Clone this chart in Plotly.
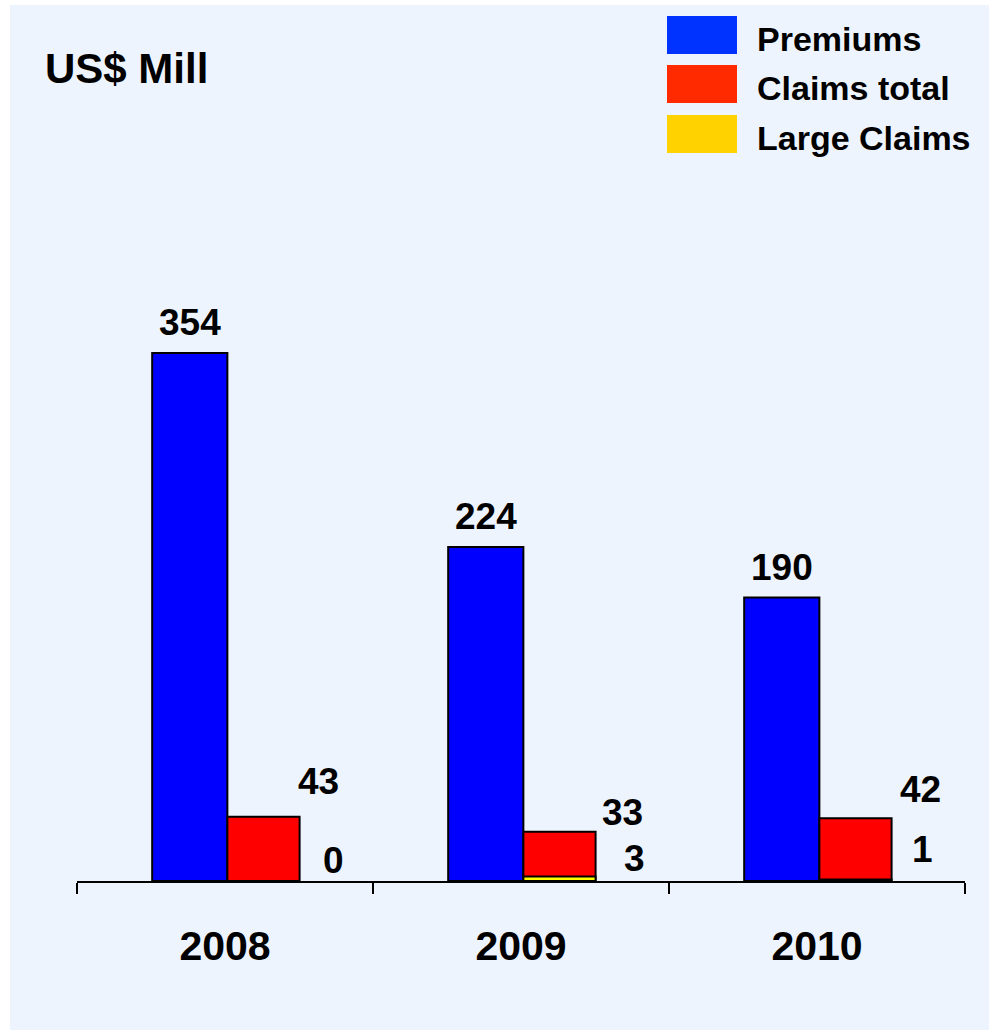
import plotly.graph_objects as go

# Chart data (US$ millions)
years = ["2008", "2009", "2010"]
premiums = [354, 224, 190]
claims_total = [43, 33, 42]
large_claims = [0, 3, 1]

series_names = ["Premiums", "Claims total", "Large Claims"]

# Figure geometry (pixels)
W, H = 989, 1030
PLOT_L, PLOT_R, PLOT_T, PLOT_B = 77, 965, 100, 881
Y_MAX = (PLOT_B - PLOT_T) / 1.4915

FONT = "Liberation Sans, Arial, sans-serif"
BG = "#EEF4FE"

BAR_BLUE = "#0000FF"
BAR_RED = "#FF0000"
BAR_YELLOW = "#FFFF00"
KEY_COLORS = ["#0033FF", "#FF2A00", "#FFD200"]

# bar placement within each category slot (category units)
PREM_OFFSET, PREM_WIDTH = -0.246, 0.254
CLAIM_OFFSET, CLAIM_WIDTH = 0.008, 0.244


def px(x):
    return (x - PLOT_L) / (PLOT_R - PLOT_L)


def py(y):
    return (PLOT_B - y) / (PLOT_B - PLOT_T)


fig = go.Figure()

outline = dict(color="black", width=2)
fig.add_trace(go.Bar(x=years, y=premiums, name=series_names[0],
                     offset=PREM_OFFSET, width=PREM_WIDTH,
                     marker=dict(color=BAR_BLUE, line=outline)))
fig.add_trace(go.Bar(x=years, y=claims_total, name=series_names[1],
                     offset=CLAIM_OFFSET, width=CLAIM_WIDTH,
                     marker=dict(color=BAR_RED, line=outline)))
fig.add_trace(go.Bar(x=years, y=large_claims, name=series_names[2],
                     offset=CLAIM_OFFSET, width=CLAIM_WIDTH,
                     marker=dict(color=BAR_YELLOW, line=outline)))

annotations = []
label_font = dict(family=FONT, size=37, color="black", weight="bold")
DESC = 9  # distance from text box bottom to baseline

# premium value labels, centred over their bars
for i, v in enumerate(premiums):
    annotations.append(dict(
        x=i + PREM_OFFSET + PREM_WIDTH / 2, y=v, xref="x", yref="y",
        text=str(v), showarrow=False, font=label_font,
        xanchor="center", yanchor="bottom", yshift=17 - DESC))

# claims labels sit to the right of the red bars
claims_dx = [93, 101, 103]
claims_dy = [22, 6, 15]
large_dx = [108.5, 113, 105]
large_dy = [7, 4.5, 16.5]
for i in range(len(years)):
    annotations.append(dict(
        x=i, y=claims_total[i], xref="x", yref="y",
        text=str(claims_total[i]), showarrow=False, font=label_font,
        xanchor="center", yanchor="bottom",
        xshift=claims_dx[i], yshift=claims_dy[i] - DESC))
    annotations.append(dict(
        x=i, y=large_claims[i], xref="x", yref="y",
        text=str(large_claims[i]), showarrow=False, font=label_font,
        xanchor="center", yanchor="bottom",
        xshift=large_dx[i], yshift=large_dy[i] - DESC))

# unit caption
annotations.append(dict(
    x=px(43), y=py(69), xref="paper", yref="paper",
    text="US$ Mill", showarrow=False,
    font=dict(family=FONT, size=42, color="black", weight="bold"),
    xanchor="left", yanchor="middle"))

shapes = [dict(type="rect", xref="paper", yref="paper", layer="below",
               x0=px(10), x1=px(W + 5), y0=py(H + 5), y1=py(5),
               fillcolor=BG, line=dict(width=0))]

# key: swatches with labels
key_rows = [(16, 54), (65, 103), (115, 153)]
for (top, bot), name, col in zip(key_rows, series_names, KEY_COLORS):
    shapes.append(dict(type="rect", xref="paper", yref="paper",
                       x0=px(667), x1=px(737), y0=py(bot), y1=py(top),
                       fillcolor=col, line=dict(width=0)))
    annotations.append(dict(
        x=px(755), y=py((top + bot) / 2 + 4), xref="paper", yref="paper",
        text=name, showarrow=False,
        font=dict(family=FONT, size=34, color="black", weight="bold"),
        xanchor="left", yanchor="middle"))

fig.update_layout(
    width=W, height=H,
    margin=dict(l=PLOT_L, r=W - PLOT_R, t=PLOT_T, b=H - PLOT_B, pad=0),
    paper_bgcolor="white", plot_bgcolor="rgba(0,0,0,0)",
    barmode="overlay", showlegend=False,
    annotations=annotations, shapes=shapes,
    xaxis=dict(type="category", range=[-0.5, 2.5],
               showline=True, linecolor="black", linewidth=1.5,
               ticks="outside", tickson="boundaries", ticklen=11,
               tickwidth=1.5, tickcolor="black", showgrid=False,
               ticklabelstandoff=28,
               tickfont=dict(family=FONT, size=41, color="black",
                             weight="bold")),
    yaxis=dict(range=[0, Y_MAX], visible=False, showgrid=False,
               zeroline=False),
)

fig.write_html("out.html")
